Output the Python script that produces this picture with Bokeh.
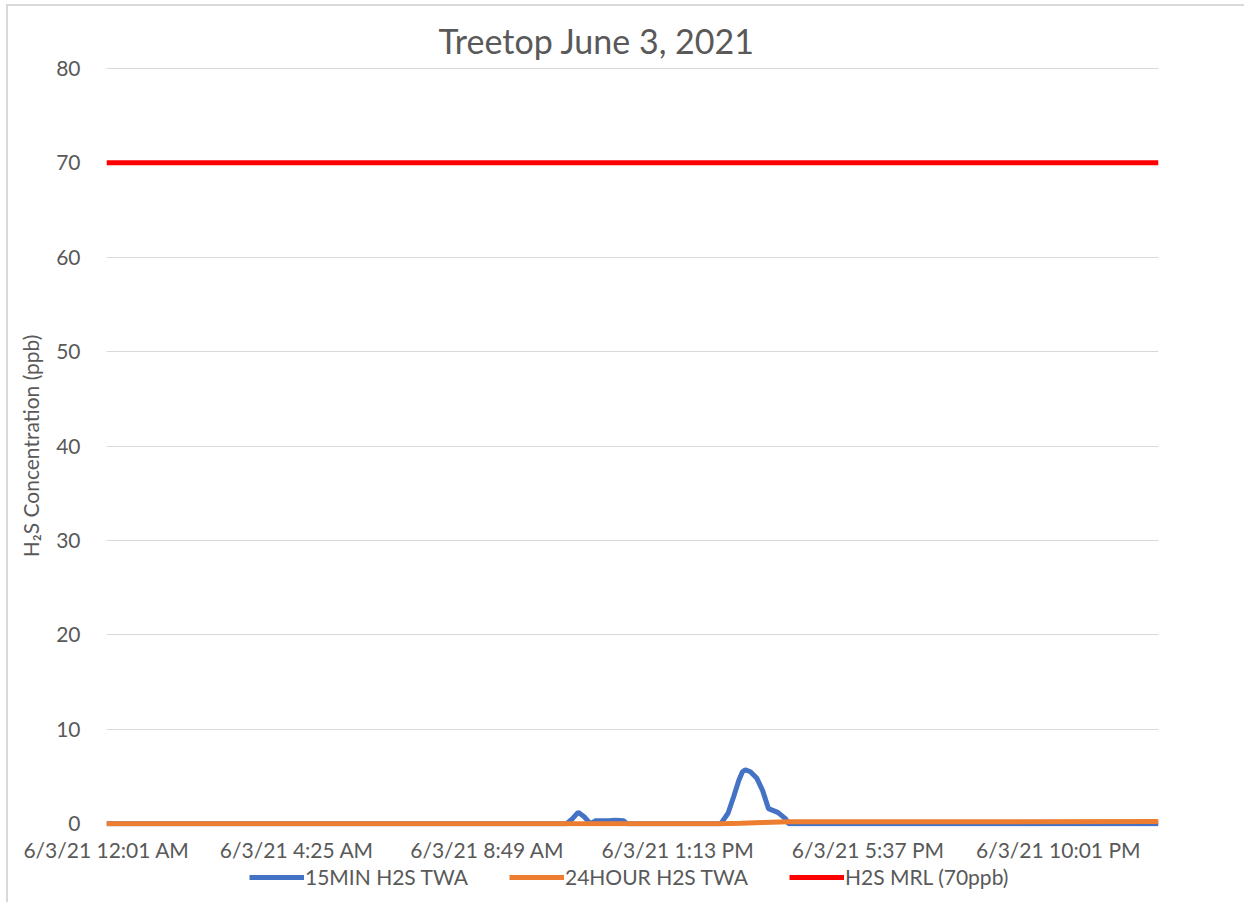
from bokeh.plotting import figure
from bokeh.layouts import column
from bokeh.models import Range1d, FixedTicker, Legend, LegendItem
from bokeh.embed import file_html
from bokeh.resources import INLINE

# ---- data (minutes after 6/3/21 12:01 AM) ----
x_labels = ["6/3/21 12:01 AM", "6/3/21 4:25 AM", "6/3/21 8:49 AM",
            "6/3/21 1:13 PM", "6/3/21 5:37 PM", "6/3/21 10:01 PM"]
label_minutes = [0, 264, 528, 792, 1056, 1320]
last_minute = 1459

min15_minutes = [0, 638, 646, 654, 663, 671, 678, 696, 706, 717, 722,
                 852, 862, 870, 877, 882, 886, 893, 902, 910, 918, 931, 942, 946, 1459]
min15_values = [0, 0, 0.5, 1.2, 0.7, 0, 0.3, 0.3, 0.35, 0.3, 0,
                0, 1.1, 2.9, 4.6, 5.5, 5.7, 5.5, 4.8, 3.5, 1.6, 1.2, 0.5, 0, 0]

hour24_minutes = [0, 852, 880, 910, 946, 1459]
hour24_values = [0, 0, 0.05, 0.12, 0.2, 0.22]

mrl_minutes = [0, 1459]
mrl_values = [70, 70]

series_names = ["15MIN H2S TWA", "24HOUR H2S TWA", "H2S MRL (70ppb)"]
series_colors = ["#4472C4", "#ED7D31", "#FF0000"]

FONT = "Lato"
GREY = "#595959"
FS = "21px"

p = figure(frame_width=1050, frame_height=759, output_backend="svg", toolbar_location=None,
           x_range=Range1d(0, last_minute), y_range=Range1d(-0.3, 80.3),
           min_border_left=98, min_border_right=88, min_border_top=59, min_border_bottom=0,
           title="Treetop June 3, 2021",
           styles={"border-left": "2px solid #d9d9d9", "border-top": "2px solid #d9d9d9",
                   "margin-left": "6px", "margin-top": "4px"})
p.outline_line_color = None
p.background_fill_color = "white"
p.border_fill_color = "white"

p.title.align = "left"
p.title.offset = 332
p.title.text_font = FONT
p.title.text_font_size = "34px"
p.title.text_font_style = "normal"
p.title.text_color = GREY

p.line(min15_minutes, min15_values, line_color=series_colors[0], line_width=5)
p.line(hour24_minutes, hour24_values, line_color=series_colors[1], line_width=5)
p.line(mrl_minutes, mrl_values, line_color=series_colors[2], line_width=5)

# axes
p.xaxis.ticker = FixedTicker(ticks=label_minutes)
p.xaxis.major_label_overrides = {m: l for m, l in zip(label_minutes, x_labels)}
p.yaxis.ticker = FixedTicker(ticks=list(range(0, 81, 10)))
for ax in (p.xaxis[0], p.yaxis[0]):
    ax.axis_line_color = None
    ax.major_tick_line_color = None
    ax.minor_tick_line_color = None
    ax.major_label_text_font = FONT
    ax.major_label_text_font_size = FS
    ax.major_label_text_color = GREY
p.xaxis.major_label_standoff = 4
p.yaxis.major_label_standoff = 20
p.yaxis.axis_label = "H\u2082S Concentration (ppb)"
p.yaxis.axis_label_text_font = FONT
p.yaxis.axis_label_text_font_size = FS
p.yaxis.axis_label_text_font_style = "normal"
p.yaxis.axis_label_text_color = GREY
p.yaxis.axis_label_standoff = 10

p.xgrid.grid_line_color = None
p.ygrid.grid_line_color = "#d9d9d9"
p.ygrid.grid_line_width = 1

# legend strip below the chart (same series, drawn out of view, only the legend shows)
lg = figure(frame_width=1236, frame_height=40, output_backend="svg", toolbar_location=None,
            x_range=Range1d(0, last_minute), y_range=Range1d(1000, 1001),
            x_axis_type=None, y_axis_type=None, min_border=0,
            styles={"margin-left": "6px", "border-left": "2px solid #d9d9d9"})
lg.outline_line_color = None
lg.grid.visible = False
l1 = lg.line(min15_minutes, min15_values, line_color=series_colors[0], line_width=5)
l2 = lg.line(hour24_minutes, hour24_values, line_color=series_colors[1], line_width=5)
l3 = lg.line(mrl_minutes, mrl_values, line_color=series_colors[2], line_width=5)

legend = Legend(items=[LegendItem(label=series_names[0], renderers=[l1]),
                       LegendItem(label=series_names[1], renderers=[l2]),
                       LegendItem(label=series_names[2], renderers=[l3])],
                orientation="horizontal", location=(241, 13),
                label_text_font=FONT, label_text_font_size=FS, label_text_color=GREY,
                glyph_width=55, glyph_height=20, label_standoff=1, spacing=41,
                padding=0, margin=0, border_line_color=None, background_fill_alpha=0)
lg.add_layout(legend, "center")

layout = column(p, lg, spacing=0)
open("out.html", "w").write(file_html(layout, INLINE))
